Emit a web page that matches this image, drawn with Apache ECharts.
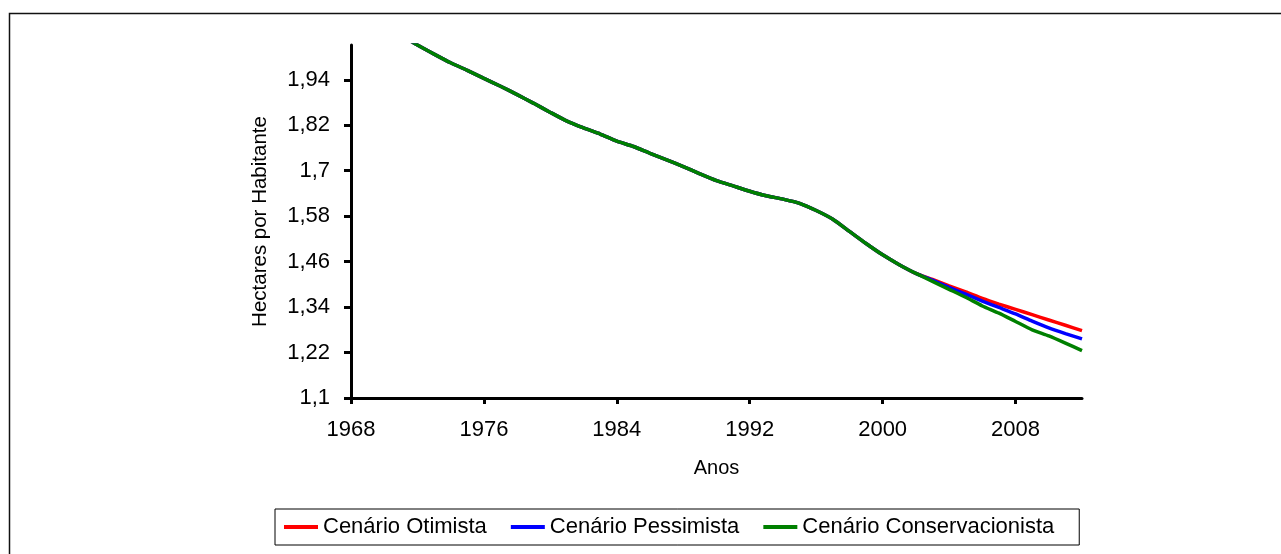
<!DOCTYPE html>
<html>
<head>
<meta charset="utf-8">
<title>Hectares por Habitante</title>
<script src="https://cdn.jsdelivr.net/npm/echarts@6/dist/echarts.min.js"></script>
<style>
  html, body { margin: 0; padding: 0; background: #fff; }
  #chart { width: 1281px; height: 554px; }
</style>
</head>
<body>
<div id="chart"></div>
<script>
// Shared history (1970–2002), hectares per inhabitant
const historyYears = [1970, 1971, 1972, 1973, 1974, 1975, 1976, 1977, 1978, 1979,
  1980, 1981, 1982, 1983, 1984, 1985, 1986, 1987, 1988, 1989,
  1990, 1991, 1992, 1993, 1994, 1995, 1996, 1997, 1998, 1999,
  2000, 2001, 2002];
const historyValues = [2.085, 2.058, 2.032, 2.008, 1.985, 1.965, 1.944, 1.923, 1.901, 1.878,
  1.854, 1.831, 1.813, 1.797, 1.778, 1.764, 1.746, 1.729, 1.711, 1.692,
  1.674, 1.660, 1.646, 1.634, 1.625, 1.614, 1.595, 1.572, 1.540, 1.508,
  1.478, 1.452, 1.429];

// Projection years and the three scenarios
const projectionYears = [2003, 2004, 2005, 2006, 2007, 2008, 2009, 2010, 2011, 2012];
const otimista        = [1.413, 1.396, 1.380, 1.363, 1.348, 1.334, 1.320, 1.306, 1.292, 1.278];
const pessimista      = [1.411, 1.392, 1.374, 1.356, 1.339, 1.322, 1.303, 1.285, 1.270, 1.256];
const conservacionista = [1.408, 1.387, 1.366, 1.343, 1.324, 1.302, 1.280, 1.264, 1.245, 1.225];

const seriesNames = ['Cenário Otimista', 'Cenário Pessimista', 'Cenário Conservacionista'];
const seriesColors = ['#ff0000', '#0000ff', '#008000'];
const scenarioValues = [otimista, pessimista, conservacionista];

// Axis ticks
const yTicks = [1.1, 1.22, 1.34, 1.46, 1.58, 1.7, 1.82, 1.94];
const xTicks = [1968, 1976, 1984, 1992, 2000, 2008];

function buildSeriesData(scenario) {
  const pts = historyYears.map((y, i) => [y, historyValues[i]]);
  projectionYears.forEach((y, i) => pts.push([y, scenario[i]]));
  return pts;
}

const font = 'Liberation Sans, Arial, sans-serif';
const chart = echarts.init(document.getElementById('chart'), null, { renderer: 'canvas' });

chart.setOption({
  backgroundColor: '#fff',
  animation: false,
  textStyle: { fontFamily: font, color: '#000' },
  graphic: [{
    type: 'rect',
    shape: { x: 9.5, y: 13.5, width: 1300, height: 600 },
    style: { fill: 'none', stroke: '#111', lineWidth: 1.5 },
    z: 100
  }],
  grid: { left: 351, right: 199, top: 45, bottom: 156, containLabel: false },
  legend: {
    left: 275,
    top: 509,
    padding: [7, 25, 7, 9],
    borderColor: '#000',
    borderWidth: 1,
    itemGap: 24,
    itemWidth: 34,
    itemHeight: 4,
    icon: 'rect',
    textStyle: { fontFamily: font, fontSize: 22, color: '#000' },
    data: seriesNames
  },
  xAxis: {
    type: 'value',
    min: 1968,
    max: 2012,
    interval: 8,
    name: 'Anos',
    nameLocation: 'middle',
    nameGap: 60,
    nameTextStyle: { fontFamily: font, fontSize: 20, color: '#000', verticalAlign: 'top' },
    axisLine: { show: true, onZero: false, lineStyle: { color: '#000', width: 3 } },
    axisTick: { show: true, length: 6, inside: false, customValues: xTicks, lineStyle: { color: '#000', width: 3 } },
    axisLabel: {
      customValues: xTicks,
      margin: 21,
      fontSize: 22,
      fontFamily: font,
      color: '#000',
      formatter: v => String(v)
    },
    splitLine: { show: false }
  },
  yAxis: {
    type: 'value',
    min: 1.1,
    max: 2.032,
    interval: 0.12,
    name: 'Hectares por Habitante',
    nameLocation: 'middle',
    nameGap: 80,
    nameRotate: 90,
    nameTextStyle: { fontFamily: font, fontSize: 20.5, color: '#000' },
    axisLine: { show: true, onZero: false, lineStyle: { color: '#000', width: 3 } },
    axisTick: { show: true, length: 7, inside: false, customValues: yTicks, lineStyle: { color: '#000', width: 3 } },
    axisLabel: {
      customValues: yTicks,
      margin: 21,
      fontSize: 22,
      fontFamily: font,
      color: '#000',
      formatter: v => String(Math.round(v * 100) / 100).replace('.', ',')
    },
    splitLine: { show: false }
  },
  series: seriesNames.map((name, i) => ({
    name: name,
    type: 'line',
    data: buildSeriesData(scenarioValues[i]),
    showSymbol: false,
    symbol: 'none',
    clip: true,
    smooth: 0.2,
    color: seriesColors[i],
    lineStyle: { color: seriesColors[i], width: 3.5 },
    z: 2 + i
  }))
});
</script>
</body>
</html>
